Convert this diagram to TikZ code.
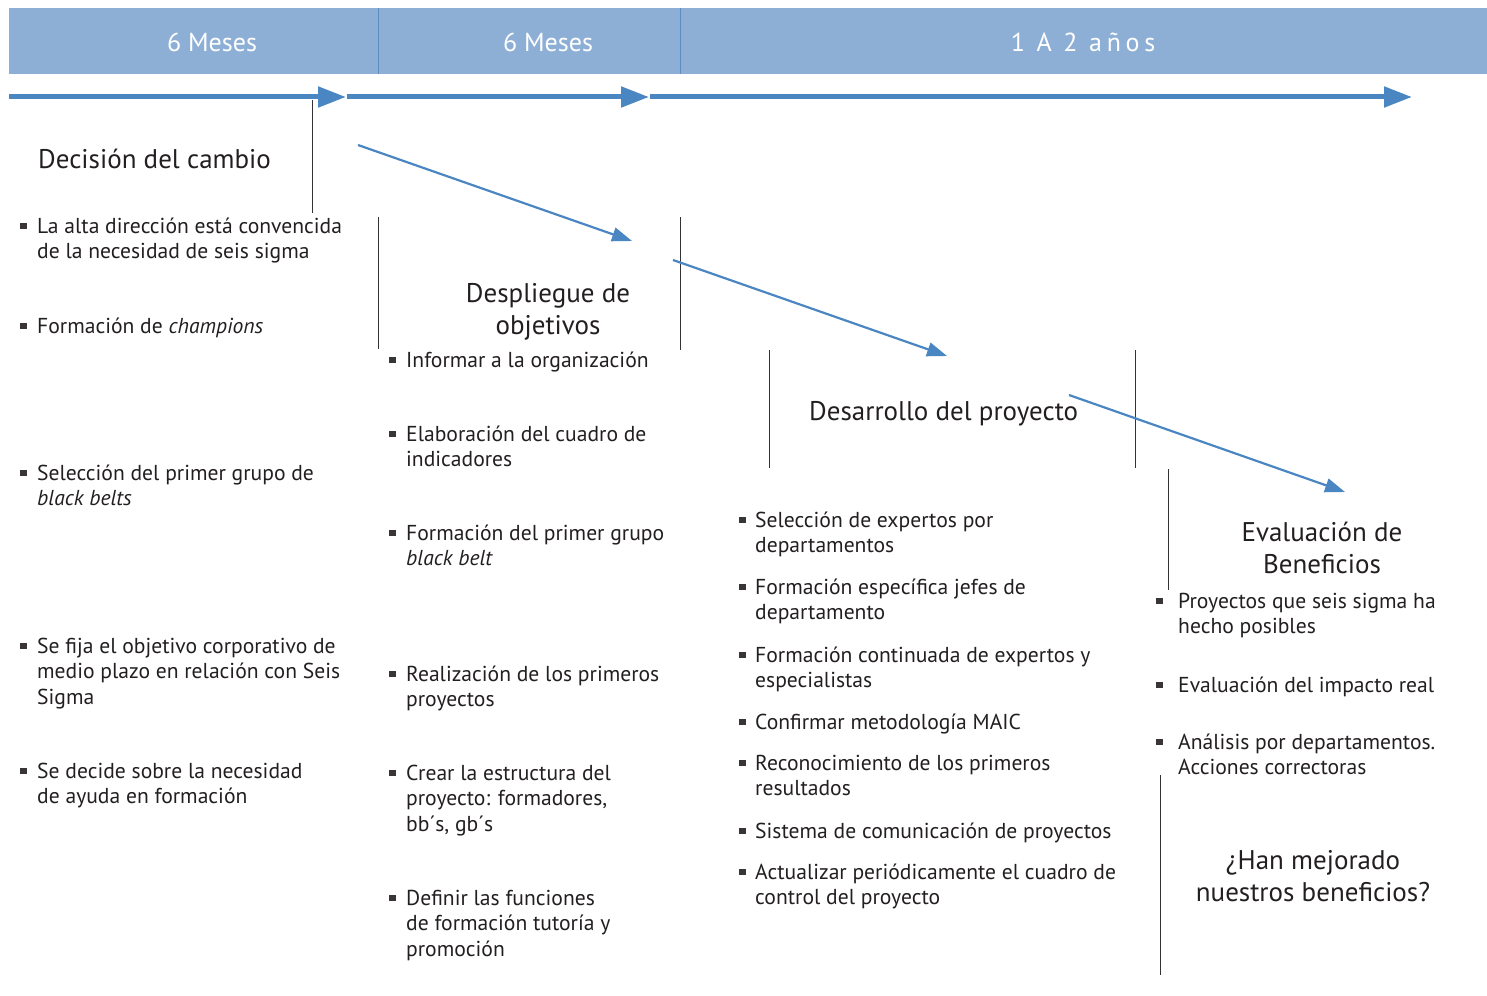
\documentclass[tikz,border=0pt]{standalone}
\usepackage{fontspec}
\setmainfont{PT Sans}
\usetikzlibrary{arrows.meta}
\definecolor{barblue}{HTML}{8DAFD6}
\definecolor{arrblue}{HTML}{4A86C1}
\definecolor{divblue}{HTML}{5B8FC4}
\definecolor{txt}{HTML}{231F20}
\newcommand{\bitem}[5]{%
  \node[bul] (#1b) at (#2+1.5,#4-7) {};
  \node[body] (#1) at (#3,#4) {\begin{tabular}[t]{@{}l@{}}#5\end{tabular}};}
\newcommand{\ttl}[1]{\begin{tabular}[t]{@{}c@{}}#1\end{tabular}}
\begin{document}
\begin{tikzpicture}[x=1pt,y=-1pt,
  body/.style={anchor=base west, inner sep=0pt, font=\fontsize{21.6}{25.5}\selectfont, text=txt},
  title/.style={inner sep=0pt, font=\fontsize{27}{32}\selectfont, text=txt},
  hdr/.style={inner sep=0pt, font=\fontsize{26}{30}\selectfont, text=white},
  timearrow/.style={draw=arrblue, line width=5pt, -{Triangle[length=28pt,width=20pt]}},
  flowarrow/.style={draw=arrblue, line width=2.2pt, -{Triangle[length=20pt,width=14pt]}},
  sepline/.style={draw=black!80, line width=0.9pt},
  bul/.style={fill=txt!90, minimum size=6.5pt, inner sep=0pt, anchor=center}]
\useasboundingbox (0,0) rectangle (1487,995);
% header bar
\fill[barblue] (9,8) rectangle (1487,74);
\draw[divblue, line width=1pt] (378,8) -- (378,74);
\draw[divblue, line width=1pt] (680,8) -- (680,74);
\node[hdr] (h1) at (212,42) {6 Meses};
\node[hdr] (h2) at (548,42) {6 Meses};
\node[hdr] (h3) at (1083,42) {\addfontfeatures{LetterSpace=18}1 A 2 años};
% time arrows
\coordinate (a1s) at (9,97);   \coordinate (a1e) at (346,97);
\coordinate (a2s) at (347,97); \coordinate (a2e) at (649,97);
\coordinate (a3s) at (650,97); \coordinate (a3e) at (1412,97);
\draw[timearrow] (a1s) -- (a1e);
\draw[timearrow] (a2s) -- (a2e);
\draw[timearrow] (a3s) -- (a3e);
% separators
\draw[sepline] (312,100) -- (312,213);
\draw[sepline] (378,217) -- (378,349);
\draw[sepline] (680,217) -- (680,350);
\draw[sepline] (769,350) -- (769,468);
\draw[sepline] (1135,350) -- (1135,468);
\draw[sepline] (1168,469) -- (1168,590);
\draw[sepline] (1160,775) -- (1160,975);
% flow arrows
\coordinate (f1s) at (358,145);  \coordinate (f1e) at (632,241);
\coordinate (f2s) at (673,260);  \coordinate (f2e) at (947,356);
\coordinate (f3s) at (1069,395); \coordinate (f3e) at (1345,492);
\draw[flowarrow] (f1s) -- (f1e);
\draw[flowarrow] (f2s) -- (f2e);
\draw[flowarrow] (f3s) -- (f3e);
% titles
\node[title, anchor=base west] (t1) at (38,168) {Decisión del cambio};
\node[title, anchor=base] (t2) at (548,302) {\ttl{Despliegue de\\objetivos}};
\node[title, anchor=base west] (t3) at (809,420) {Desarrollo del proyecto};
\node[title, anchor=base] (t4) at (1322,541) {\ttl{Evaluación de\\Beneficios}};
\node[title, anchor=base] (t5) at (1313,869) {\ttl{¿Han mejorado\\nuestros beneficios?}};
% column 1
\bitem{c1a}{22}{37}{233}{La alta dirección está convencida\\de la necesidad de seis sigma}
\bitem{c1b}{22}{37}{333}{Formación de \textit{champions}}
\bitem{c1c}{22}{37}{480}{Selección del primer grupo de\\\textit{black belts}}
\bitem{c1d}{22}{37}{653}{Se fija el objetivo corporativo de\\medio plazo en relación con Seis\\Sigma}
\bitem{c1e}{22}{37}{778}{Se decide sobre la necesidad\\de ayuda en formación}
% column 2
\bitem{c2a}{391}{406}{367}{Informar a la organización}
\bitem{c2b}{391}{406}{441}{Elaboración del cuadro de\\indicadores}
\bitem{c2c}{391}{406}{540}{Formación del primer grupo\\\textit{black belt}}
\bitem{c2d}{391}{406}{681}{Realización de los primeros\\proyectos}
\bitem{c2e}{391}{406}{780}{Crear la estructura del\\proyecto: formadores,\\bb´s, gb´s}
\bitem{c2f}{391}{406}{905}{Definir las funciones\\de formación tutoría y\\promoción}
% column 3
\bitem{c3a}{741}{755}{527}{Selección de expertos por\\departamentos}
\bitem{c3b}{741}{755}{594}{Formación específica jefes de\\departamento}
\bitem{c3c}{741}{755}{662}{Formación continuada de expertos y\\especialistas}
\bitem{c3d}{741}{755}{729}{Confirmar metodología MAIC}
\bitem{c3e}{741}{755}{770}{Reconocimiento de los primeros\\resultados}
\bitem{c3f}{741}{755}{838}{Sistema de comunicación de proyectos}
\bitem{c3g}{741}{755}{879}{Actualizar periódicamente el cuadro de\\control del proyecto}
% column 4
\bitem{c4a}{1158}{1178}{608}{Proyectos que seis sigma ha\\hecho posibles}
\bitem{c4b}{1158}{1178}{692}{Evaluación del impacto real}
\bitem{c4c}{1158}{1178}{749}{Análisis por departamentos.\\Acciones correctoras}
\end{tikzpicture}
\end{document}
